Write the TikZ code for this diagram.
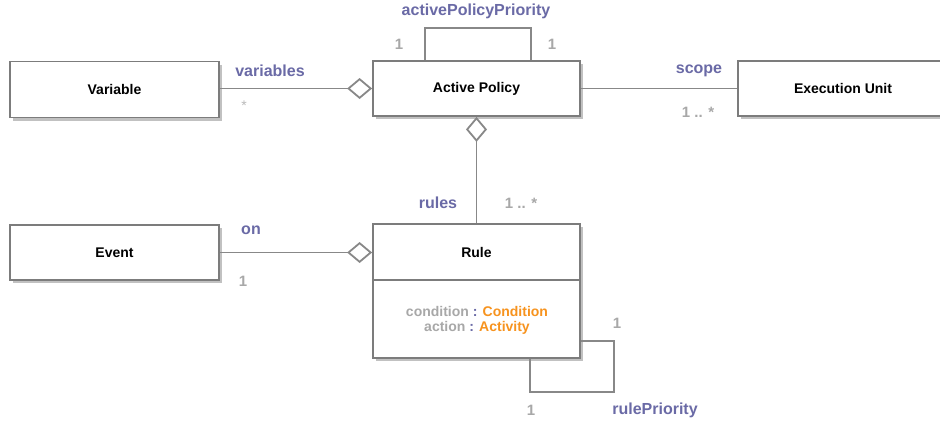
\documentclass[tikz,border=0pt]{standalone}
\usepackage{fontspec}
\setmainfont{Liberation Sans}
\usetikzlibrary{shadows,arrows.meta}
\definecolor{lblpurple}{HTML}{6A6AA6}
\definecolor{numgray}{HTML}{A8A8A8}
\definecolor{linegray}{HTML}{888888}
\definecolor{boxgray}{HTML}{7C7C7C}
\definecolor{attrorange}{HTML}{F7931E}
\begin{document}
\begin{tikzpicture}[x=1pt,y=-1pt,
  classbox/.style={draw=boxgray, line width=1.8pt, fill=white, inner sep=0pt,
    drop shadow={shadow xshift=2.5pt, shadow yshift=-3pt, opacity=0.4, fill=black!60}},
  title/.style={font=\fontsize{14}{16}\selectfont\bfseries, text=black},
  assoc/.style={draw=linegray, line width=1.8pt},
  agg/.style={assoc, -{Diamond[open, fill=white, length=25pt, width=21pt, line width=1.8pt]}},
  rolelbl/.style={font=\fontsize{16}{18}\selectfont\bfseries, text=lblpurple},
  mult/.style={font=\fontsize{15}{17}\selectfont\bfseries, text=numgray},
  attr/.style={font=\fontsize{14}{16}\selectfont\bfseries, text=numgray, align=center}
]
\useasboundingbox (0,0) rectangle (940,426);
\fill[white] (0,0) rectangle (940,426);

% classes
\node[classbox, minimum width=209pt, minimum height=56pt] (var) at (114.5,89.5) {};
\node[title] (varT) at (var.center) {Variable};
\node[classbox, minimum width=207pt, minimum height=55pt] (ap) at (476.5,88.5) {};
\node[title] (apT) at (ap.center) {Active Policy};
\node[classbox, minimum width=210pt, minimum height=55pt] (eu) at (843,88.5) {};
\node[title] (euT) at (eu.center) {Execution Unit};
\node[classbox, minimum width=209pt, minimum height=55pt] (ev) at (114.5,252.5) {};
\node[title] (evT) at (ev.center) {Event};
\node[classbox, minimum width=207pt, minimum height=134pt] (rule) at (476.5,291) {};
\draw[draw=boxgray, line width=1.8pt] (rule.west |- 0,280) coordinate (divL) -- (rule.east |- 0,280) coordinate (divR);
\node[title] (ruleT) at (476.5,252) {Rule};
\node[attr] (ruleA) at (477,320) {condition \textcolor{lblpurple}{:} \textcolor{attrorange}{Condition}\\[-1pt]action \textcolor{lblpurple}{:} \textcolor{attrorange}{Activity}};

% associations
\draw[agg] (var.east |- ap.west) -- (ap.west);
\draw[assoc] (ap.east) -- (eu.west);
\draw[agg] (rule.north) -- (ap.south);
\draw[agg] (ev.east) -- (ev.east -| rule.west);
\draw[assoc] ([xshift=53pt]ap.north west) -- ++(0,-32) -| ([xshift=-50pt]ap.north east);
\draw[assoc] ([yshift=18pt]rule.south east) -- ++(33,0) -- ++(0,51) -| ([xshift=-51pt]rule.south east);

% labels
\node[rolelbl] (lAPP) at (476,11) {activePolicyPriority};
\node[mult] (m1) at (399,44) {1};
\node[mult] (m2) at (552,44) {1};
\node[rolelbl] (lVar) at (270,71) {variables};
\node[font=\fontsize{14}{16}\selectfont, text=numgray!80] (mStar) at (244,106) {*};
\node[rolelbl] (lScope) at (699,71) {scope};
\node[mult] (mScope) at (698,112) {1 .. *};
\node[rolelbl] (lRules) at (438,203) {rules};
\node[mult] (mRules) at (521,203) {1 .. *};
\node[rolelbl] (lOn) at (251,230) {on};
\node[mult] (mOn) at (243,281) {1};
\node[mult] (mR1) at (617,323) {1};
\node[mult] (mR2) at (531,410) {1};
\node[rolelbl] (lRP) at (655,410) {rulePriority};
\end{tikzpicture}
\end{document}
